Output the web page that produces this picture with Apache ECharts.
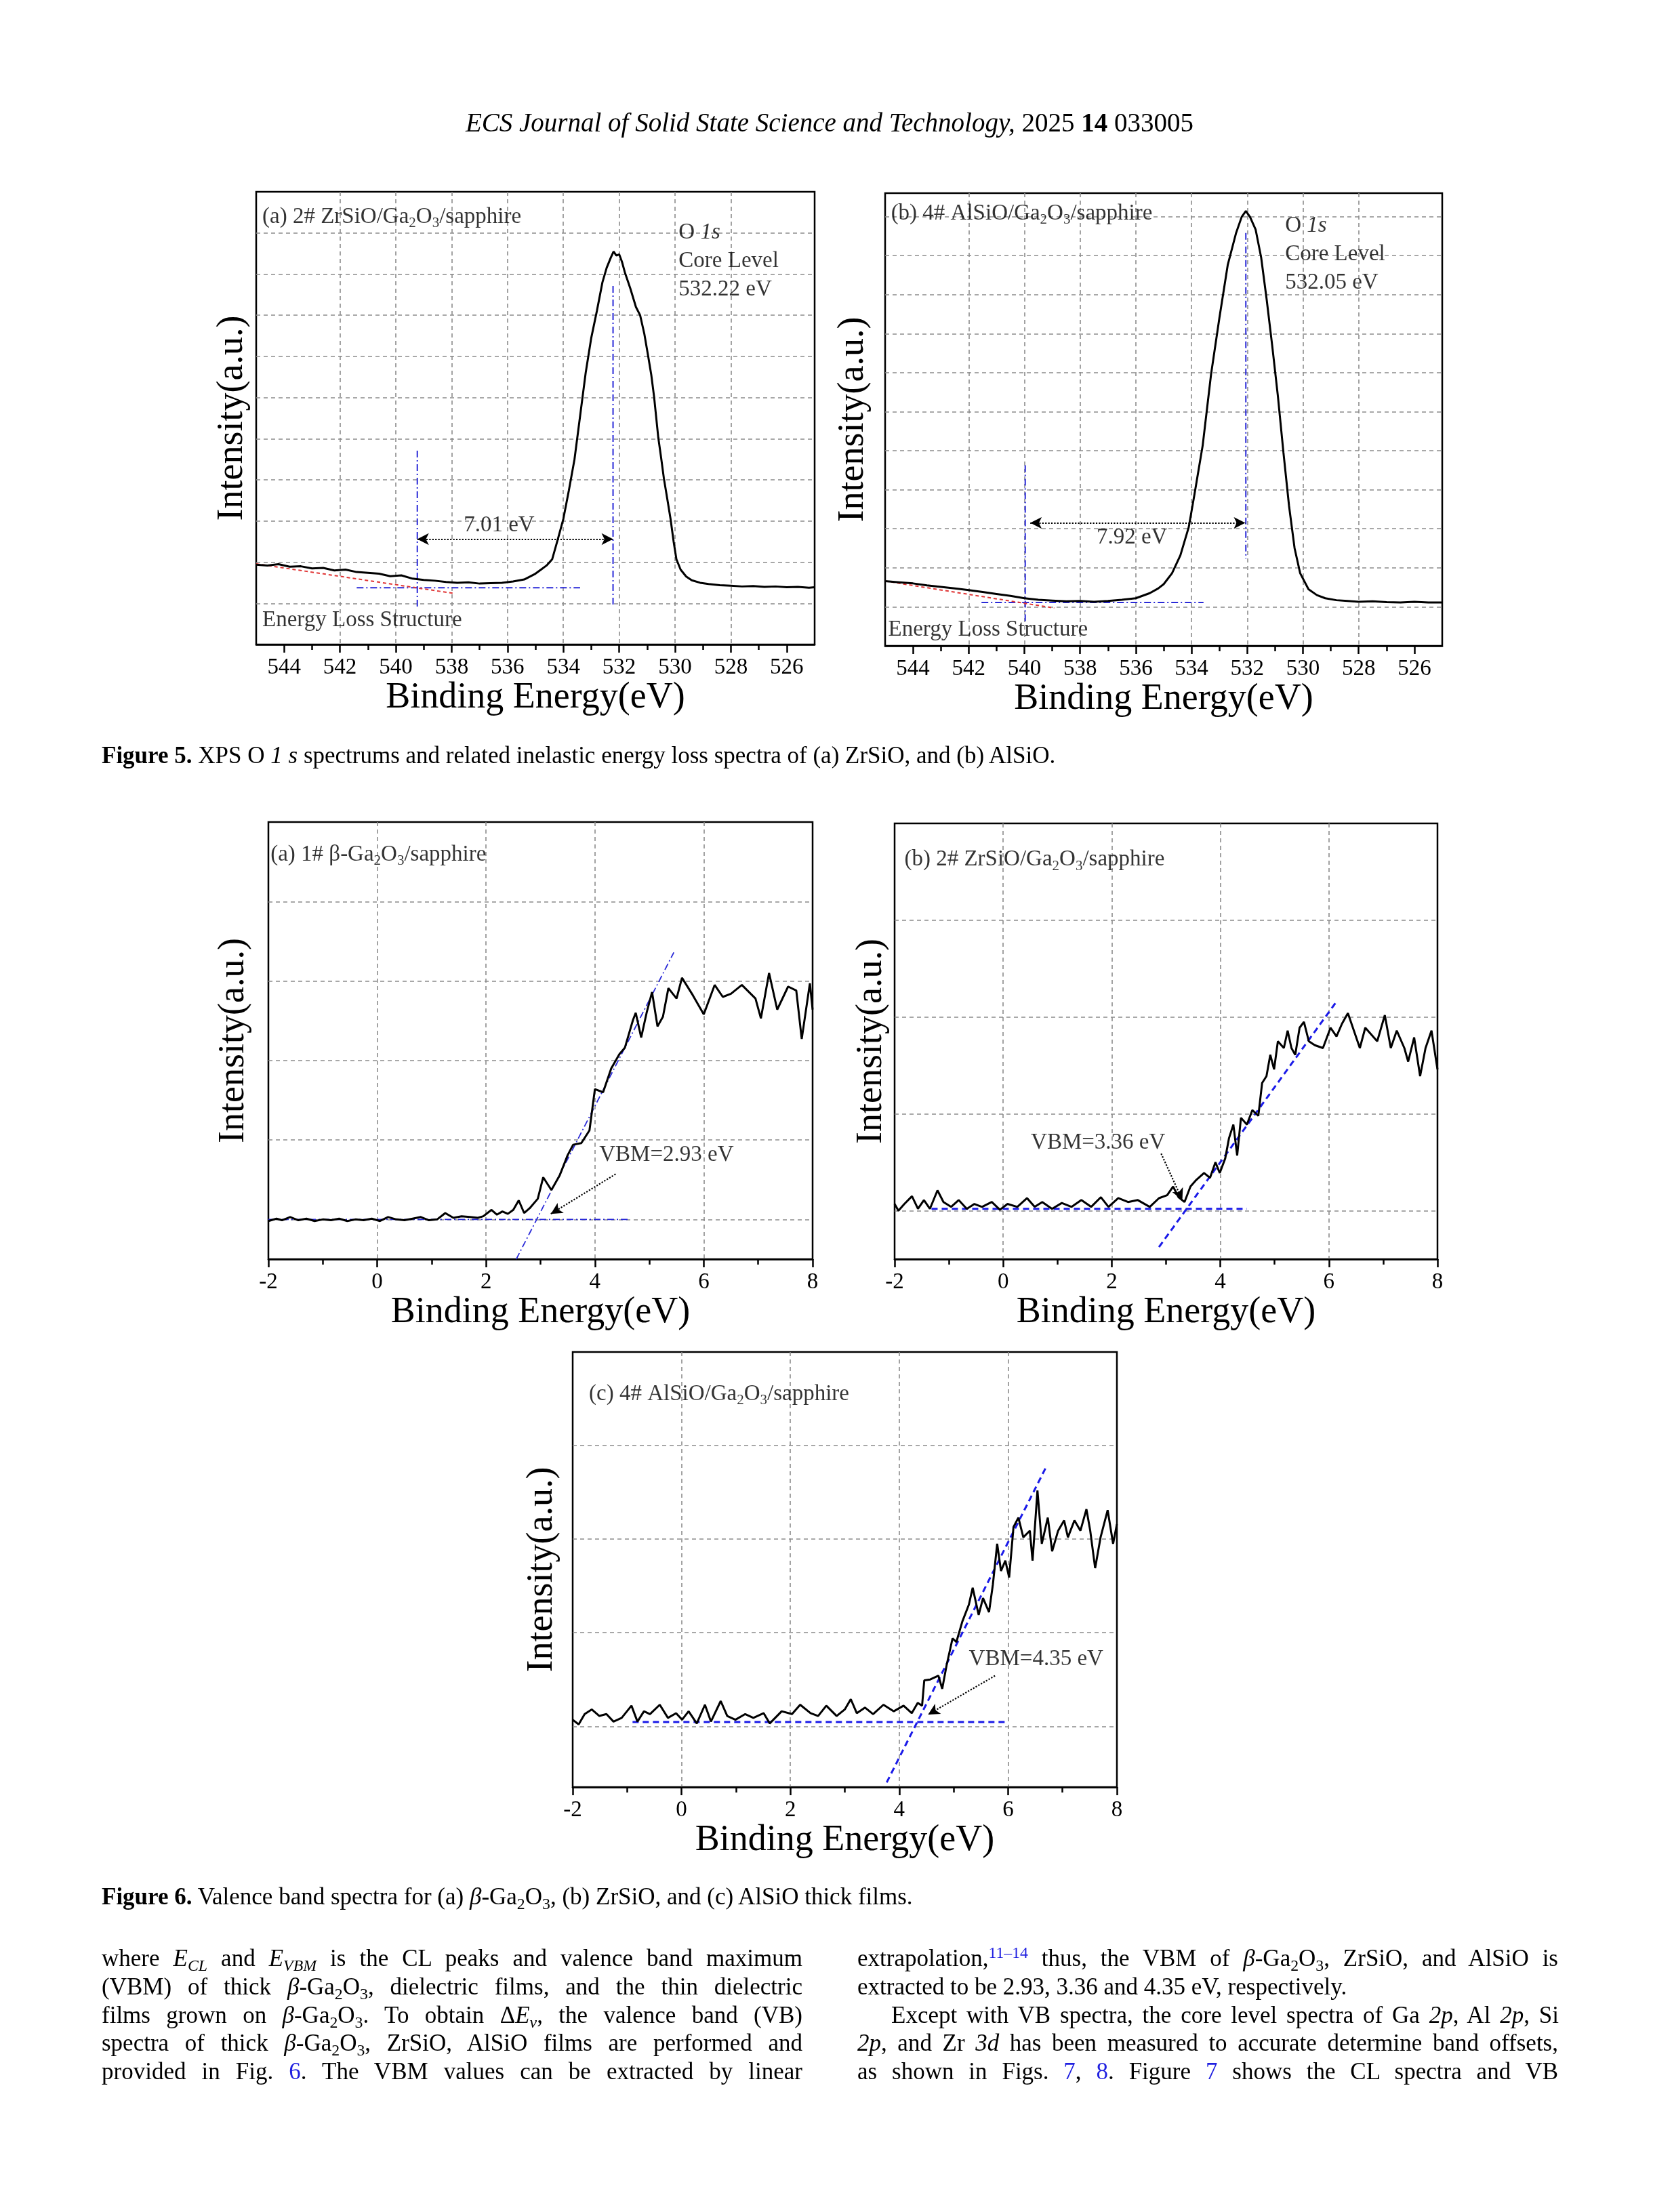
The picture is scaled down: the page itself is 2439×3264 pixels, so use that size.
<!DOCTYPE html>
<html>
<head>
<meta charset="utf-8">
<title>ECS J. Solid State Sci. Technol. 2025 14 033005 - Figures 5 and 6</title>
<script src="https://cdn.jsdelivr.net/npm/echarts@6.0.0/dist/echarts.min.js"></script>
<style>
html,body{margin:0;padding:0;background:#fff;}
body{width:2439px;height:3264px;position:relative;overflow:hidden;}
#chart{position:absolute;left:0;top:0;width:2439px;height:3264px;}
.tx{position:absolute;font-family:'Liberation Serif','Times New Roman',serif;color:#000;line-height:42px;}
.hdr{left:0;width:2448px;text-align:center;font-size:39px;top:160px;white-space:nowrap;}
.cap{left:150px;font-size:35px;white-space:nowrap;}
.ln{font-size:35px;width:1034px;text-align:justify;text-align-last:justify;}
.L{left:150px;} .R{left:1265px;}
.lk{color:#1f1fe0;}
sub{font-size:0.68em;vertical-align:-0.28em;line-height:0;}
sup{font-size:0.68em;vertical-align:0.5em;line-height:0;}
</style>
</head>
<body>
<div id="chart"></div>

<div class="tx hdr"><i>ECS Journal of Solid State Science and Technology,</i> 2025 <b>14</b> 033005</div>

<div class="tx cap" style="top:1094px;"><b>Figure 5.</b> XPS O <i>1 s</i> spectrums and related inelastic energy loss spectra of (a) ZrSiO, and (b) AlSiO.</div>
<div class="tx cap" style="top:2778px;"><b>Figure 6.</b> Valence band spectra for (a) <i>β</i>-Ga<sub>2</sub>O<sub>3</sub>, (b) ZrSiO, and (c) AlSiO thick films.</div>

<div class="tx ln L" style="top:2869px;">where <i>E<sub>CL</sub></i> and <i>E<sub>VBM</sub></i> is the CL peaks and valence band maximum</div>
<div class="tx ln L" style="top:2911px;">(VBM) of thick <i>β</i>-Ga<sub>2</sub>O<sub>3</sub>, dielectric films, and the thin dielectric</div>
<div class="tx ln L" style="top:2953px;">films grown on <i>β</i>-Ga<sub>2</sub>O<sub>3</sub>. To obtain Δ<i>E<sub>v</sub></i>, the valence band (VB)</div>
<div class="tx ln L" style="top:2994px;">spectra of thick <i>β</i>-Ga<sub>2</sub>O<sub>3</sub>, ZrSiO, AlSiO films are performed and</div>
<div class="tx ln L" style="top:3036px;">provided in Fig. <span class="lk">6</span>. The VBM values can be extracted by linear</div>

<div class="tx ln R" style="top:2869px;">extrapolation,<sup class="lk">11–14</sup> thus, the VBM of <i>β</i>-Ga<sub>2</sub>O<sub>3</sub>, ZrSiO, and AlSiO is</div>
<div class="tx ln R" style="top:2911px;text-align:left;text-align-last:left;">extracted to be 2.93, 3.36 and 4.35 eV, respectively.</div>
<div class="tx ln R" style="top:2953px;padding-left:50px;width:985px;">Except with VB spectra, the core level spectra of Ga <i>2p</i>, Al <i>2p</i>, Si</div>
<div class="tx ln R" style="top:2994px;"><i>2p</i>, and Zr <i>3d</i> has been measured to accurate determine band offsets,</div>
<div class="tx ln R" style="top:3036px;">as shown in Figs. <span class="lk">7</span>, <span class="lk">8</span>. Figure <span class="lk">7</span> shows the CL spectra and VB</div>

<script>
// ================= DATA =================
// Figure 5(a): O 1s, 2# ZrSiO/Ga2O3/sapphire  (binding energy eV, intensity a.u.)
const f5aE = [545, 544.6, 544.2, 543.8, 543.4, 543.0, 542.6, 542.2, 541.8, 541.4,
  541.0, 540.6, 540.2, 539.8, 539.4, 539.0, 538.6, 538.2, 537.8, 537.4,
  537.0, 536.6, 536.2, 535.8, 535.4, 535.0, 534.8, 534.6, 534.4, 534.2,
  534.0, 533.8, 533.6, 533.4, 533.2, 533.0, 532.8, 532.6, 532.45, 532.3,
  532.2, 532.1, 532.0, 531.9, 531.8, 531.6, 531.4, 531.25, 531.1, 530.96,
  530.85, 530.75, 530.6, 530.5, 530.4, 530.28, 530.16, 530.05, 529.95, 529.8,
  529.6, 529.4, 529.1, 528.8, 528.4, 528.0, 527.6, 527.2, 526.8, 526.4,
  526.0, 525.6, 525.2, 525.0];
const f5aI = [1.94, 1.92, 1.95, 1.89, 1.90, 1.85, 1.86, 1.80, 1.82, 1.76,
  1.74, 1.72, 1.66, 1.68, 1.60, 1.57, 1.55, 1.52, 1.50, 1.51,
  1.48, 1.49, 1.50, 1.53, 1.58, 1.72, 1.82, 1.92, 2.07, 2.55,
  3.05, 3.75, 4.50, 5.55, 6.60, 7.45, 8.10, 8.80, 9.15, 9.40,
  9.55, 9.45, 9.48, 9.30, 9.05, 8.65, 8.20, 8.00, 7.55, 7.00,
  6.55, 6.02, 5.03, 4.55, 4.04, 3.55, 3.05, 2.50, 2.07, 1.82,
  1.65, 1.56, 1.50, 1.47, 1.44, 1.43, 1.41, 1.42, 1.40, 1.41,
  1.39, 1.40, 1.38, 1.39];

// Figure 5(b): O 1s, 4# AlSiO/Ga2O3/sapphire
const f5bE = [545, 544.5, 544, 543.5, 543, 542.5, 542, 541.5, 541, 540.5,
  540, 539.5, 539, 538.5, 538, 537.5, 537, 536.5, 536, 535.5,
  535.2, 535, 534.7, 534.4, 534.1, 533.9, 533.6, 533.3, 533.0, 532.7,
  532.4, 532.2, 532.05, 531.9, 531.7, 531.5, 531.3, 531.1, 530.9, 530.7,
  530.5, 530.3, 530.1, 529.8, 529.5, 529.2, 528.8, 528.4, 528, 527.5,
  527, 526.5, 526, 525.5, 525];
const f5bI = [1.66, 1.63, 1.60, 1.55, 1.51, 1.47, 1.43, 1.38, 1.33, 1.28,
  1.22, 1.18, 1.16, 1.14, 1.15, 1.13, 1.15, 1.18, 1.22, 1.35,
  1.47, 1.58, 1.86, 2.32, 3.04, 3.86, 5.13, 6.95, 8.40, 9.76,
  10.58, 10.99, 11.14, 10.99, 10.67, 9.95, 8.86, 7.67, 6.40, 4.95,
  3.59, 2.50, 1.86, 1.45, 1.30, 1.22, 1.17, 1.15, 1.13, 1.14,
  1.12, 1.11, 1.13, 1.11, 1.11];

// Figure 6(a): valence band, 1# beta-Ga2O3/sapphire
const f6aE = [-2.0, -1.85, -1.75, -1.6, -1.45, -1.3, -1.15, -1.0, -0.85, -0.7,
  -0.55, -0.4, -0.25, -0.1, 0.05, 0.2, 0.35, 0.5, 0.65, 0.8,
  0.95, 1.1, 1.25, 1.4, 1.55, 1.7, 1.85, 1.95, 2.1, 2.2,
  2.3, 2.4, 2.5, 2.6, 2.7, 2.8, 2.95, 3.05, 3.2, 3.35,
  3.5, 3.6, 3.75, 3.9, 4.0, 4.15, 4.3, 4.45, 4.55, 4.7,
  4.75, 4.85, 4.95, 5.05, 5.15, 5.25, 5.35, 5.5, 5.6, 5.8,
  6.0, 6.2, 6.35, 6.5, 6.7, 6.95, 7.05, 7.2, 7.35, 7.55,
  7.7, 7.8, 7.95, 8.0];
const f6aI = [0.98, 1.01, 0.99, 1.03, 0.99, 1.01, 0.98, 1.00, 0.99, 1.01,
  0.98, 1.00, 0.99, 1.01, 0.98, 1.03, 1.00, 0.99, 1.01, 1.03,
  0.99, 1.00, 1.08, 1.02, 1.04, 1.03, 1.02, 1.04, 1.12, 1.06,
  1.10, 1.07, 1.12, 1.24, 1.08, 1.14, 1.26, 1.53, 1.37, 1.55,
  1.81, 1.94, 1.96, 2.12, 2.64, 2.60, 2.90, 3.08, 3.16, 3.51,
  3.60, 3.29, 3.60, 3.86, 3.43, 3.55, 3.91, 3.78, 4.04, 3.82,
  3.58, 3.95, 3.80, 3.84, 3.95, 3.78, 3.53, 4.10, 3.64, 3.93,
  3.88, 3.27, 3.97, 3.64];

// Figure 6(b): valence band, 2# ZrSiO/Ga2O3/sapphire
const f6bE = [-2.00, -1.93, -1.82, -1.68, -1.57, -1.46, -1.35, -1.21, -1.10, -0.96,
  -0.82, -0.67, -0.53, -0.39, -0.21, -0.06, 0.08, 0.26, 0.44, 0.58,
  0.72, 0.90, 1.08, 1.26, 1.44, 1.62, 1.80, 1.94, 2.12, 2.30,
  2.48, 2.70, 2.87, 3.02, 3.13, 3.23, 3.34, 3.45, 3.56, 3.70,
  3.81, 3.91, 3.99, 4.09, 4.16, 4.24, 4.31, 4.38, 4.49, 4.59,
  4.70, 4.77, 4.85, 4.92, 4.99, 5.06, 5.17, 5.24, 5.31, 5.38,
  5.46, 5.54, 5.63, 5.74, 5.89, 6.03, 6.14, 6.24, 6.35, 6.46,
  6.57, 6.67, 6.78, 6.89, 7.03, 7.14, 7.25, 7.39, 7.46, 7.57,
  7.68, 7.78, 7.89, 8.00];
const f6bI = [1.07, 1.00, 1.07, 1.15, 1.02, 1.11, 1.02, 1.21, 1.09, 1.04,
  1.11, 1.02, 1.07, 1.04, 1.09, 1.01, 1.07, 1.04, 1.13, 1.04,
  1.09, 1.02, 1.08, 1.04, 1.11, 1.04, 1.14, 1.04, 1.13, 1.09,
  1.11, 1.04, 1.13, 1.16, 1.25, 1.14, 1.09, 1.25, 1.32, 1.39,
  1.34, 1.50, 1.39, 1.54, 1.75, 1.89, 1.57, 1.96, 1.89, 2.04,
  1.98, 2.32, 2.39, 2.61, 2.46, 2.75, 2.68, 2.86, 2.68, 2.61,
  2.89, 2.95, 2.75, 2.71, 2.68, 2.89, 2.80, 2.93, 3.04, 2.86,
  2.68, 2.89, 2.82, 2.75, 3.02, 2.68, 2.86, 2.68, 2.54, 2.79,
  2.39, 2.68, 2.86, 2.46];

// Figure 6(c): valence band, 4# AlSiO/Ga2O3/sapphire
const f6cE = [-2.00, -1.89, -1.78, -1.65, -1.51, -1.38, -1.25, -1.10, -0.92, -0.81,
  -0.69, -0.58, -0.40, -0.25, -0.10, 0.01, 0.13, 0.28, 0.43, 0.54,
  0.72, 0.84, 0.99, 1.17, 1.32, 1.51, 1.62, 1.84, 2.03, 2.18,
  2.37, 2.51, 2.66, 2.85, 3.00, 3.11, 3.22, 3.37, 3.52, 3.71,
  3.90, 4.08, 4.23, 4.34, 4.42, 4.46, 4.57, 4.72, 4.79, 4.87,
  4.98, 5.05, 5.16, 5.28, 5.35, 5.46, 5.54, 5.65, 5.72, 5.80,
  5.87, 5.95, 6.02, 6.10, 6.19, 6.28, 6.40, 6.45, 6.54, 6.62,
  6.73, 6.81, 6.92, 7.03, 7.10, 7.22, 7.33, 7.44, 7.51, 7.60,
  7.70, 7.83, 7.93, 8.00];
const f6cI = [1.07, 1.02, 1.13, 1.18, 1.11, 1.13, 1.05, 1.09, 1.22, 1.05,
  1.16, 1.13, 1.23, 1.09, 1.14, 1.07, 1.16, 1.03, 1.23, 1.05,
  1.27, 1.11, 1.07, 1.13, 1.09, 1.14, 1.03, 1.16, 1.13, 1.23,
  1.14, 1.11, 1.22, 1.11, 1.18, 1.29, 1.14, 1.20, 1.13, 1.23,
  1.16, 1.22, 1.14, 1.25, 1.22, 1.49, 1.50, 1.54, 1.40, 1.65,
  1.94, 1.90, 2.12, 2.30, 2.48, 2.19, 2.37, 2.22, 2.51, 2.95,
  2.66, 2.77, 2.59, 3.13, 3.23, 3.02, 3.09, 2.77, 3.52, 2.95,
  3.23, 2.87, 3.09, 3.20, 3.02, 3.20, 3.09, 3.32, 3.09, 2.69,
  3.02, 3.31, 2.95, 3.16];

// Tick labels
const xpsMajorTicks = [544, 542, 540, 538, 536, 534, 532, 530, 528, 526];
const xpsMinorTicks = [543, 541, 539, 537, 535, 533, 531, 529, 527];

// Annotation guide lines (data coordinates: eV, a.u.)
const f5aBlue = [[[539.23, 4.71], [539.23, 0.88]], [[532.22, 8.71], [532.22, 0.92]], [[541.4, 1.38], [533.4, 1.38]]];
const f5aRed = [[545, 1.96], [537.9, 1.24]];
const f5aArrow = [[539.23, 2.56], [532.22, 2.56]];
const f5bBlue = [[[539.97, 4.63], [539.97, 0.59]], [[532.05, 10.58], [532.05, 2.23]], [[541.54, 1.11], [533.57, 1.11]]];
const f5bRed = [[545, 1.66], [538.93, 0.97]];
const f5bArrow = [[539.79, 3.15], [532.07, 3.15]];
const f6aBlue = [[[-2, 1.0], [4.63, 1.0]], [[2.555, 0.5], [5.45, 4.36]]];
const f6aArrow = [[4.38, 1.57], [3.19, 1.07]];
const f6bBlue = [[[-1.32, 1.02], [4.49, 1.02]], [[2.87, 0.625], [6.14, 3.16]]];
const f6bArrow = [[2.91, 1.59], [3.30, 1.11]];
const f6cBlue = [[[-0.90, 1.046], [5.99, 1.046]], [[3.77, 0.40], [6.69, 3.76]]];
const f6cArrow = [[5.76, 1.54], [4.53, 1.125]];

// Annotation texts [x, y, text, align]
const f5aNotes = [[544.78, 10.39, '(a) 2# ZrSiO/Ga{s|2}O{s|3}/sapphire'], [529.87, 10.0, 'O {i|1s}'],
  [529.87, 9.31, 'Core Level'], [529.87, 8.62, '532.22 eV'], [544.78, 0.58, 'Energy Loss Structure'], [536.3, 2.9, '7.01 eV', 'center']];
const f5bNotes = [[544.79, 11.08, '(b) 4# AlSiO/Ga{s|2}O{s|3}/sapphire'], [530.64, 10.76, 'O {i|1s}'],
  [530.64, 10.04, 'Core Level'], [530.64, 9.31, '532.05 eV'], [544.89, 0.41, 'Energy Loss Structure'], [536.14, 2.77, '7.92 eV', 'center']];
const f6aNotes = [[-1.96, 5.59, '(a) 1# β-Ga{s|2}O{s|3}/sapphire'], [4.08, 1.81, 'VBM=2.93 eV']];
const f6bNotes = [[-1.82, 4.625, '(b) 2# ZrSiO/Ga{s|2}O{s|3}/sapphire'], [0.51, 1.70, 'VBM=3.36 eV']];
const f6cNotes = [[-1.70, 4.55, '(c) 4# AlSiO/Ga{s|2}O{s|3}/sapphire'], [5.28, 1.72, 'VBM=4.35 eV']];

// ================= STYLE / BUILD =================
const FONT = "'Liberation Serif','Times New Roman',serif";
const BLUE = '#2a2ad8';
const RED = '#e03535';
const GRIDC = '#8c8c8c';
const RICH = {
  s: {fontFamily: FONT, fontSize: 21, verticalAlign: 'bottom', lineHeight: 21, color: '#000'},
  i: {fontFamily: FONT, fontSize: 33, fontStyle: 'italic', color: '#000'}
};

const chart = echarts.init(document.getElementById('chart'), null, {renderer: 'canvas'});

const splitStyle = {show: true, showMinLine: false, showMaxLine: false, lineStyle: {color: GRIDC, type: [6, 5], width: 1.6}};
const nameStyle = {fontFamily: FONT, fontSize: 54, color: '#000'};

function xAxisXPS(gi, gap) {
  return {gridIndex: gi, type: 'value', min: 525, max: 545, interval: 1, inverse: true, position: 'bottom',
    name: 'Binding Energy(eV)', nameLocation: 'middle', nameGap: gap, nameTextStyle: nameStyle,
    axisLine: {show: true, onZero: false, lineStyle: {color: '#000', width: 2.5}},
    axisTick: {show: true, customValues: xpsMajorTicks, length: 12, lineStyle: {color: '#000', width: 2.5}},
    axisLabel: {show: true, customValues: xpsMajorTicks, fontFamily: FONT, fontSize: 33, color: '#000', margin: 18,
      formatter: v => (Math.round(v) % 2 === 0 ? String(v) : '')},
    splitLine: splitStyle};
}
function xAxisXPSMinor(gi) {
  return {gridIndex: gi, type: 'value', min: 525, max: 545, interval: 1, inverse: true, position: 'bottom',
    axisLine: {show: false, onZero: false}, axisLabel: {show: false}, splitLine: {show: false},
    axisTick: {show: true, customValues: xpsMinorTicks, length: 8, lineStyle: {color: '#000', width: 2.5}}};
}
function xAxisVB(gi, gap) {
  return {gridIndex: gi, type: 'value', min: -2, max: 8, interval: 2, position: 'bottom',
    name: 'Binding Energy(eV)', nameLocation: 'middle', nameGap: gap, nameTextStyle: nameStyle,
    axisLine: {show: true, onZero: false, lineStyle: {color: '#000', width: 2.5}},
    axisTick: {show: true, length: 12, lineStyle: {color: '#000', width: 2.5}},
    minorTick: {show: true, splitNumber: 2, length: 8, lineStyle: {color: '#000', width: 2.5}},
    axisLabel: {fontFamily: FONT, fontSize: 33, color: '#000', margin: 18},
    splitLine: splitStyle};
}
function yAxisI(gi, gap, range) {
  return Object.assign({gridIndex: gi, type: 'value', name: 'Intensity(a.u.)', nameLocation: 'middle', nameRotate: 90,
    nameGap: gap, nameTextStyle: nameStyle,
    axisLine: {show: false}, axisTick: {show: false}, axisLabel: {show: false}, splitLine: splitStyle}, range);
}

function spectrum(xi, yi, E, I, arrow, sym) {
  return {type: 'line', xAxisIndex: xi, yAxisIndex: yi, data: E.map((e, k) => [e, I[k]]),
    showSymbol: false, symbol: 'none', silent: true, z: 5, animation: false,
    lineStyle: {color: '#000', width: 3},
    markLine: {silent: true, animation: false, symbol: sym, symbolSize: [13, 17], label: {show: false},
      emphasis: {disabled: true},
      lineStyle: {color: '#000', type: 'dotted', width: 2.2},
      data: [[{coord: arrow[0]}, {coord: arrow[1]}]]}};
}
function guide(xi, yi, pts, color, type, width) {
  return {type: 'line', xAxisIndex: xi, yAxisIndex: yi, data: pts, showSymbol: false, symbol: 'none',
    silent: true, z: 4, animation: false, lineStyle: {color: color, type: type, width: width}};
}
function notes(xi, yi, arr) {
  return {type: 'scatter', xAxisIndex: xi, yAxisIndex: yi, symbol: 'circle', symbolSize: 1, silent: true, z: 6,
    animation: false, itemStyle: {color: 'rgba(0,0,0,0)'},
    data: arr.map(n => ({value: [n[0], n[1]],
      label: {show: true, position: 'inside', align: n[3] || 'left', verticalAlign: 'middle', formatter: n[2],
        fontFamily: FONT, fontSize: 33, lineHeight: 40, color: '#000', rich: RICH}}))};
}

const DASHDOT = [10, 4, 2, 4];
const series = [];
// Fig 5a (xAxis 0, yAxis 0)
f5aBlue.forEach(p => series.push(guide(0, 0, p, BLUE, DASHDOT, 2)));
series.push(guide(0, 0, f5aRed, RED, [5, 4], 2));
series.push(spectrum(0, 0, f5aE, f5aI, f5aArrow, ['arrow', 'arrow']));
series.push(notes(0, 0, f5aNotes));
// Fig 5b (xAxis 2, yAxis 1)
f5bBlue.forEach(p => series.push(guide(2, 1, p, BLUE, DASHDOT, 2)));
series.push(guide(2, 1, f5bRed, RED, [5, 4], 2));
series.push(spectrum(2, 1, f5bE, f5bI, f5bArrow, ['arrow', 'arrow']));
series.push(notes(2, 1, f5bNotes));
// Fig 6a (xAxis 4, yAxis 2)
f6aBlue.forEach(p => series.push(guide(4, 2, p, BLUE, DASHDOT, 1.8)));
series.push(spectrum(4, 2, f6aE, f6aI, f6aArrow, ['none', 'arrow']));
series.push(notes(4, 2, f6aNotes));
// Fig 6b (xAxis 5, yAxis 3)
f6bBlue.forEach(p => series.push(guide(5, 3, p, '#1a1ae8', [9, 6], 3)));
series.push(spectrum(5, 3, f6bE, f6bI, f6bArrow, ['none', 'arrow']));
series.push(notes(5, 3, f6bNotes));
// Fig 6c (xAxis 6, yAxis 4)
f6cBlue.forEach(p => series.push(guide(6, 4, p, '#1a1ae8', [9, 6], 3)));
series.push(spectrum(6, 4, f6cE, f6cI, f6cArrow, ['none', 'arrow']));
series.push(notes(6, 4, f6cNotes));

const gridBox = {show: true, borderColor: '#000', borderWidth: 2.5, backgroundColor: 'transparent', containLabel: false};
chart.setOption({
  animation: false,
  backgroundColor: 'transparent',
  textStyle: {fontFamily: FONT},
  grid: [
    Object.assign({left: 378, top: 283, width: 824, height: 668}, gridBox),
    Object.assign({left: 1306, top: 285, width: 822, height: 668}, gridBox),
    Object.assign({left: 396, top: 1213, width: 803, height: 645}, gridBox),
    Object.assign({left: 1320, top: 1215, width: 801, height: 643}, gridBox),
    Object.assign({left: 845, top: 1995, width: 803, height: 642}, gridBox)
  ],
  xAxis: [xAxisXPS(0, 45), xAxisXPSMinor(0), xAxisXPS(1, 41), xAxisXPSMinor(1),
    xAxisVB(2, 52), xAxisVB(3, 50), xAxisVB(4, 47)],
  yAxis: [
    yAxisI(0, 8, {min: 0, max: 11, interval: 1}),
    yAxisI(1, 20, {min: 0, max: 11.6, interval: 1}),
    yAxisI(2, 24, {min: 0.5, max: 6, splitNumber: 5}),
    yAxisI(3, 7, {min: 0.5, max: 5, splitNumber: 4}),
    yAxisI(4, 18, {min: 0.35, max: 5, splitNumber: 4})
  ],
  series: series
});
</script>
</body>
</html>
